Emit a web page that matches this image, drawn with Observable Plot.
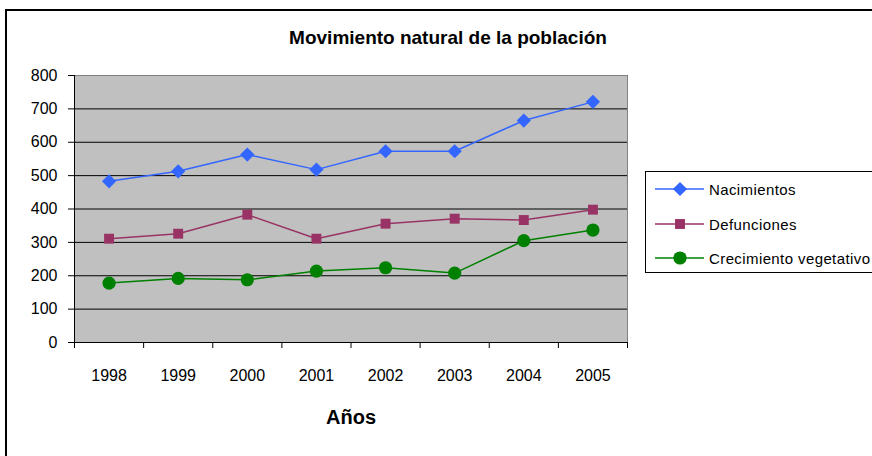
<!DOCTYPE html>
<html><head><meta charset="utf-8">
<script src="https://cdn.jsdelivr.net/npm/d3@7"></script>
<script src="https://cdn.jsdelivr.net/npm/@observablehq/plot@0.6"></script>
<style>
body{margin:0;background:#fff;font-family:"Liberation Sans",Arial,sans-serif;}
#wrap{position:relative;width:872px;height:456px;overflow:hidden;background:#fff}
#border{position:absolute;left:5px;top:9px;width:900px;height:500px;border:2px solid #000;box-sizing:border-box}
#title{position:absolute;left:0;width:896px;top:27px;text-align:center;font-weight:bold;font-size:19px;line-height:22px}
#xlabel{position:absolute;left:251px;width:200px;top:405px;text-align:center;font-weight:bold;font-size:20px;line-height:24px}
#chart{position:absolute;left:0;top:0}
#legend{position:absolute;left:645px;top:171px;width:240px;height:102px;border:1px solid #000;box-sizing:border-box;background:#fff}
.item{position:absolute;left:8px;height:20px;display:flex;align-items:center;font-size:15px;letter-spacing:0.4px;white-space:nowrap}
.item svg{display:block;margin-right:5px}
</style>
</head><body>
<div id="wrap">
  <div id="border"></div>
  <div id="chart"></div>
  <div id="title">Movimiento natural de la población</div>
  <div id="xlabel">Años</div>
  <div id="legend"></div>
</div>
<script>
const years = ["1998","1999","2000","2001","2002","2003","2004","2005"];
const nacimientos = [483, 513, 563, 518, 573, 573, 665, 721];
const defunciones = [311, 326, 383, 311, 356, 371, 367, 398];
const crecimiento = [178, 192, 188, 214, 224, 208, 305, 337];
const seriesNames = ["Nacimientos", "Defunciones", "Crecimiento vegetativo"];
const seriesColors = ["#3366ff", "#993366", "#008000"];
const seriesSymbols = ["diamond2", "square", "circle"];
const seriesRadius = [6.4, 5.6, 6.6];
const yTicks = [0, 100, 200, 300, 400, 500, 600, 700, 800];

const seriesValues = [nacimientos, defunciones, crecimiento];
const data = [];
seriesValues.forEach((vals, s) => vals.forEach((v, i) => data.push({serie: seriesNames[s], idx: i + 0.5, year: years[i], value: v})));

const tickFont = '"Liberation Sans", Arial, sans-serif';
const marks = [
  Plot.frame({fill: "#c0c0c0", stroke: "#808080"}),
  Plot.ruleY(yTicks.filter(d => d > 0 && d < 800), {stroke: "#000", strokeWidth: 1}),
  Plot.ruleX([0], {stroke: "#000"}),
  Plot.ruleY([0], {stroke: "#000"}),
  Plot.axisY({ticks: yTicks, tickSize: 6, tickPadding: 11, stroke: "#000", fontSize: 16, label: null}),
  Plot.axisX({ticks: d3.range(0, years.length + 1), tickSize: 6, tickFormat: () => "", stroke: "#000", label: null}),
  Plot.axisX({ticks: years.map((d, i) => i + 0.5), tickSize: 0, tickPadding: 27, tickFormat: (d) => years[Math.floor(d)], fontSize: 16, label: null})
];
seriesNames.forEach((name, s) => {
  const sub = data.filter(d => d.serie === name);
  marks.push(Plot.line(sub, {x: "idx", y: "value", stroke: seriesColors[s], strokeWidth: 1.5}));
  marks.push(Plot.dot(sub, {x: "idx", y: "value", fill: seriesColors[s], stroke: "none", symbol: seriesSymbols[s], r: seriesRadius[s]}));
});

const chart = Plot.plot({
  width: 872, height: 456,
  marginLeft: 74, marginRight: 245, marginTop: 75, marginBottom: 114,
  x: {type: "linear", domain: [0, years.length], axis: null},
  y: {domain: [0, 800], axis: null},
  style: {fontFamily: tickFont, fontSize: "16px", color: "#000", background: "transparent", overflow: "visible"},
  marks
});
document.getElementById("chart").appendChild(chart);

// legend
const legend = d3.select("#legend");
const symMap = {diamond2: d3.symbolDiamond2, square: d3.symbolSquare, circle: d3.symbolCircle};
const rowTops = [7, 42, 76];
seriesNames.forEach((name, s) => {
  const item = legend.append("div").attr("class", "item").style("top", rowTops[s] + "px");
  const svg = item.append("svg").attr("width", 50).attr("height", 20);
  svg.append("line").attr("x1", 1).attr("x2", 50).attr("y1", 10).attr("y2", 10).attr("stroke", seriesColors[s]).attr("stroke-width", 1.5);
  const r = seriesRadius[s];
  svg.append("path").attr("transform", "translate(26,10)")
    .attr("d", d3.symbol(symMap[seriesSymbols[s]], r * r * Math.PI)()).attr("fill", seriesColors[s]);
  item.append("span").text(name);
});
</script>
</body></html>
